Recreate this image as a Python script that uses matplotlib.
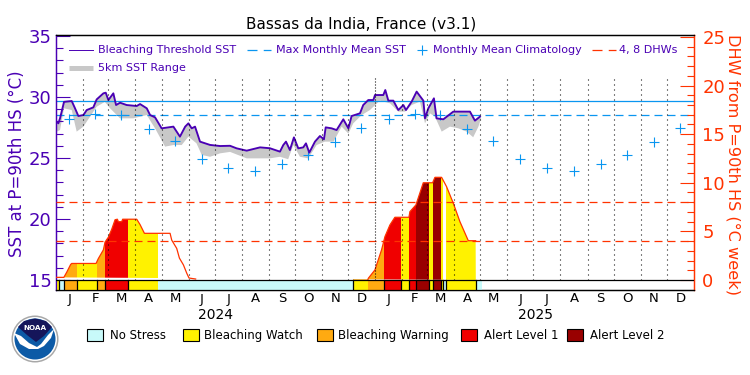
import numpy as np
import matplotlib
matplotlib.use("Agg")
import matplotlib.pyplot as plt
from matplotlib.patches import Rectangle, Circle, Polygon

title = "Bassas da India, France (v3.1)"
ylabel_left = "SST at P=90th HS (°C)"
ylabel_right = "DHW from P=90th HS (°C week)"
month_names = list("JFMAMJJASOND") * 2
year_labels = ["2024", "2025"]
year_starts = [0, 366]
month_starts = [0, 31, 60, 91, 121, 152, 182, 213, 244, 274, 305, 335,
                366, 397, 425, 456, 486, 517, 547, 578, 609, 639, 670, 700, 731]

threshold_sst = 29.65
mmm_sst = 28.55
dhw_levels = [4, 8]

clim_days = [15, 45, 75, 106, 136, 167, 197, 228, 259, 289, 320, 350,
             381, 411, 440, 471, 501, 532, 562, 593, 624, 654, 685, 715]
clim_sst = [28.17, 28.58, 28.52, 27.35, 26.39, 24.95, 24.17, 23.9, 24.5, 25.22, 26.3, 27.42,
            28.17, 28.58, 28.52, 27.35, 26.39, 24.95, 24.17, 23.9, 24.5, 25.22, 26.3, 27.42]

sst_days = [0.8, 2.7, 4.6, 6.5, 9.2, 18, 21.8, 25.6, 31.4, 35.2, 42.8, 46.6, 54.3, 57, 60, 65.7, 68.8,
            73.4, 81, 92.5, 96.3, 104, 107.8, 113.5, 121, 128.8, 134.5, 142, 148, 151.7, 155.5, 159.3,
            165, 176.5, 188, 199.4, 207, 218.5, 233.8, 245, 256.6, 260.4, 263.5, 268, 272.6, 277.6,
            283.3, 286.4, 290.2, 296.7, 302.4, 307, 309, 315.8, 321.5, 329.2, 335, 338.7, 348.3, 352,
            357.8, 363.6, 365.5, 375, 377.3, 380.8, 386.5, 392.2, 398, 401, 407.5, 413.2, 420.9, 422.8,
            426.6, 433, 436, 443.8, 455.2, 464.8, 474.3, 480, 485.8]
sst_vals = [27.98, 27.84, 28.25, 28.8, 29.6, 29.67, 29.07, 28.44, 28.52, 28.93, 29.15, 29.8, 30.3, 30.35,
            29.75, 30.3, 29.34, 29.53, 29.34, 29.26, 29.42, 29.07, 28.52, 28.33, 27.43, 27.51, 27.57, 26.75,
            27.57, 27.84, 27.43, 27.57, 26.34, 26.07, 25.98, 26.0, 25.79, 25.6, 25.87, 25.8, 25.52, 26.06,
            26.34, 25.65, 26.69, 25.79, 25.87, 26.2, 25.44, 26.34, 26.8, 26.53, 27.51, 27.43, 27.29, 28.17,
            27.43, 28.44, 28.66, 29.34, 29.75, 29.75, 30.16, 30.16, 30.57, 29.7, 29.7, 28.93, 29.34, 28.93,
            29.62, 30.44, 29.7, 28.25, 29.07, 29.89, 28.25, 28.17, 28.8, 28.8, 28.8, 28.06, 28.39]

low_days = [0.8, 4.6, 9.2, 18, 23.7, 31.4, 39, 46.6, 56, 62, 73.4, 88.7, 104, 113.5, 125, 134.5, 144, 151.7,
            161, 167, 176.5, 188, 199.4, 218.5, 233.8, 245, 256.6, 266, 272, 279.5, 289, 298.6, 308, 318,
            327.3, 335, 340.6, 350.2, 359.7, 371, 382.7, 392.2, 400, 407.5, 417, 422.8, 428.5, 434.2, 441.9,
            451.4, 461, 470.5, 478, 484, 487]
low_vals = [27.16, 27.29, 29.07, 28.93, 27.16, 27.57, 28.39, 29.2, 29.6, 29.07, 28.25, 28.25, 28.52, 27.43,
            25.93, 26.06, 26.06, 26.75, 26.2, 25.25, 25.1, 25.38, 25.5, 24.97, 24.97, 24.97, 25.1, 24.9, 26.06,
            25.1, 24.97, 26.06, 26.34, 26.34, 27.57, 27.0, 27.84, 28.52, 28.93, 29.7, 29.48, 28.8, 28.8, 29.34,
            29.62, 27.84, 28.66, 28.39, 27.16, 27.57, 27.43, 27.16, 26.7, 27.57, 28.25]

dhw_days = [0.8, 9, 12.3, 16.8, 18, 45.9, 48.5, 54.3, 56.2, 60, 63.8, 67.7, 70.3, 71.5, 75.3, 76.4, 92.5, 96.3,
            101.3, 130.7, 132.6, 138.3, 141.4, 146, 149.8, 152.4, 160, 160.5, 357.3, 357.8, 365.4, 373, 376.9, 382.6, 388.3,
            404.4, 405.5, 412.4, 420.8, 431.5, 434.2, 441.8, 447.5, 455.2, 462.8, 472.4, 480.8, 481]
dhw_vals = [0.27, 0.27, 0.8, 1.6, 1.7, 1.7, 2.2, 3.1, 3.9, 4.4, 5.2, 6.2, 6.25, 6.0, 6.0, 6.25, 6.25, 5.7,
            4.8, 4.8, 4.1, 3.25, 2.25, 1.55, 0.7, 0.2, 0.1, 0.0, 0.0, 0.17, 1.03, 3.09, 4.46, 5.66, 6.45,
            6.45, 7.03, 7.72, 10.0, 10.0, 10.56, 10.56, 9.6, 7.9, 6.0, 4.04, 4.04, 0.0]

status_edges = [0.8, 3.5, 9.6, 24.5, 46.6, 56.6, 83, 116.5, 340.6, 376, 395.3, 404.4, 412.4, 427.3, 431.9, 441,
                443.7, 446.7, 481, 488]
status_levels = [1, 0, 2, 1, 2, 3, 1, 0, 1, 3, 1, 3, 4, 1, 4, 1, 0, 1, 0]
orange_break_2025 = [340.6, 357.8, 376]

status_colors = ["#c8fafa", "#fff200", "#ffaa11", "#f00000", "#990000"]
status_names = ["No Stress", "Bleaching Watch", "Bleaching Warning", "Alert Level 1", "Alert Level 2"]
PURPLE = "#4a00b4"
BLUE = "#0a96f0"
RED = "#ff3300"
GRAY = "#c8c8c8"
FS_TXT = 8.0

fig = plt.figure(figsize=(7.5, 3.75), dpi=100, facecolor="white")
rect = [56/750, 1-290/375, 638/750, 255/375]
ax = fig.add_axes(rect)
ax.set_xlim(0, 731)
ax.set_ylim(14.18, 35.08)
ax2 = ax.twinx()
ax2.set_ylim(-1.03, 25.2)
ax2.patch.set_alpha(0)
for a in (ax, ax2):
    a.spines["top"].set_color("black")
    a.spines["bottom"].set_color("black")
    a.spines["left"].set_color(PURPLE)
    a.spines["right"].set_color(RED)
    for s in a.spines.values():
        s.set_linewidth(0.9)

# SST side
ax.fill(list(low_days) + list(sst_days[::-1]), list(low_vals) + list(sst_vals[::-1]),
        color=GRAY, lw=0, zorder=1)
ax.axhline(threshold_sst, color=BLUE, lw=0.9, zorder=2)
ax.axhline(mmm_sst, color=BLUE, lw=0.9, dashes=(6.4, 4), zorder=2)
ax.plot(clim_days, clim_sst, ls="none", marker="+", ms=7.4, mew=0.8, color=BLUE, zorder=3)
ax.plot(sst_days, sst_vals, color=PURPLE, lw=1.35, zorder=4)

ax.set_yticks(np.arange(15, 36, 5))
ax.set_yticks(np.arange(15, 36, 1), minor=True)
ax.tick_params(axis="y", which="major", direction="in", length=10, width=0.8, color=PURPLE,
               labelcolor=PURPLE, labelsize=13, pad=3)
ax.tick_params(axis="y", which="minor", direction="in", length=5, width=0.8, color=PURPLE)
ax.set_xticks([])

# DHW side
curve = ax2.fill(dhw_days, dhw_vals, facecolor="none", edgecolor="none")[0]
for x0, x1, lv in zip(status_edges[:-1], status_edges[1:], status_levels):
    if lv == 0:
        continue
    c = status_colors[lv]
    if x0 == 340.6:
        c = status_colors[2]
    r = ax2.axvspan(x0, x1, color=c, lw=0, zorder=1)
    r.set_clip_path(curve)
ax2.plot(dhw_days[:27], dhw_vals[:27], color=RED, lw=0.9, zorder=3)
ax2.plot(dhw_days[28:47], dhw_vals[28:47], color=RED, lw=0.9, zorder=3)

for x0, x1, lv in zip(status_edges[:-1], status_edges[1:], status_levels):
    ax2.add_patch(Rectangle((x0, -1.03), x1-x0, 1.03, fc=status_colors[lv], lw=0, zorder=2))
ax2.add_patch(Rectangle((orange_break_2025[1], -1.03), orange_break_2025[2]-orange_break_2025[1], 1.03,
                        fc=status_colors[2], lw=0, zorder=2))
for e in status_edges:
    if e in (116.5, 488, 0.8):
        continue
    ax2.plot([e, e], [-1.03, 0], color="black", lw=0.9, zorder=3)
ax2.axhline(0, color="black", lw=0.9, zorder=3)

for lv in dhw_levels:
    ax2.axhline(lv, color=RED, lw=0.9, dashes=(6.4, 4), zorder=4)

ax2.set_yticks(np.arange(0, 26, 5))
ax2.set_yticks(np.arange(0, 26, 1), minor=True)
ax2.tick_params(axis="y", which="major", direction="in", length=10, width=0.8, color=RED,
                labelcolor=RED, labelsize=13, pad=6)
ax2.tick_params(axis="y", which="minor", direction="in", length=5, width=0.8, color=RED)

for i, d in enumerate(month_starts[1:-1]):
    dots = (0.9, 1.8) if d == 366 else (0.9, 3.6)
    ax2.plot([d, d], [0, 20.8], color="black", lw=0.8, dashes=dots, zorder=5)

# Overlay in pixel coordinates
ov = fig.add_axes([0, 0, 1, 1], facecolor="none")
ov.set_xlim(0, 750)
ov.set_ylim(375, 0)
ov.axis("off")

ov.text(361, 24, title, ha="center", va="center", fontsize=11, color="black")
ov.text(17, 164, ylabel_left, rotation=90, ha="center", va="center", fontsize=12, color=PURPLE)
ov.text(733, 164, ylabel_right, rotation=270, ha="center", va="center", fontsize=11.6, color=RED)

for i, nm in enumerate(month_names):
    xp = 56 + 638/731*(month_starts[i]+month_starts[i+1])/2
    ov.text(xp, 299, nm, ha="center", va="center", fontsize=9.5, color="black")
for lb, d in zip(year_labels, year_starts):
    ov.text(56 + 638/731*(d+183), 315, lb, ha="center", va="center", fontsize=10, color="black")

# top legend
ov.plot([69, 93], [50, 50], color=PURPLE, lw=0.7)
ov.text(98, 50, "Bleaching Threshold SST", va="center", fontsize=FS_TXT, color=PURPLE)
ov.plot([247, 271], [50, 50], color=BLUE, lw=0.9, dashes=(8, 5))
ov.text(276, 50, "Max Monthly Mean SST", va="center", fontsize=FS_TXT, color=PURPLE)
ov.plot([422], [50], marker="+", ms=7.4, mew=0.8, color=BLUE)
ov.text(433, 50, "Monthly Mean Climatology", va="center", fontsize=FS_TXT, color=PURPLE)
ov.plot([592, 616], [50, 50], color=RED, lw=0.9, dashes=(8, 5))
ov.text(619, 50, "4, 8 DHWs", va="center", fontsize=FS_TXT, color=PURPLE)
ov.plot([69, 93], [68, 68], color=GRAY, lw=3.6, solid_capstyle="butt")
ov.text(98, 68, "5km SST Range", va="center", fontsize=FS_TXT, color=PURPLE)

# bottom legend
for x0, tx, nm, c in zip([87, 183, 317, 461, 567], [110, 204, 338, 484, 590], status_names, status_colors):
    ov.add_patch(Rectangle((x0, 329), 16, 12, fc=c, ec="black", lw=0.8))
    ov.text(tx, 335.5, nm, va="center", fontsize=8.5, color="black")

# NOAA logo
ov.add_patch(Circle((35, 339), 23.5, fc="#a8a8a8", ec="none"))
ov.add_patch(Circle((35, 339), 22, fc="white", ec="none"))
ov.add_patch(Circle((35, 339), 20.5, fc="#0c5aa6", ec="none"))
ov.add_patch(Polygon([[18, 327], [24, 321], [35, 318.5], [46, 321], [52, 327], [44, 336], [36, 342], [27, 335]],
                     fc="#15155a", ec="none"))
ov.add_patch(Polygon([[14, 333], [21, 336], [29, 343], [37, 347], [41, 344], [48, 335], [54, 329], [51, 338],
                      [44, 346], [38, 349], [29, 349], [20, 344]], fc="white", ec="none"))
ov.text(35, 328, "NOAA", ha="center", va="center", fontsize=5.2, color="white", fontweight="bold")

fig.savefig("out.png", dpi=100)
